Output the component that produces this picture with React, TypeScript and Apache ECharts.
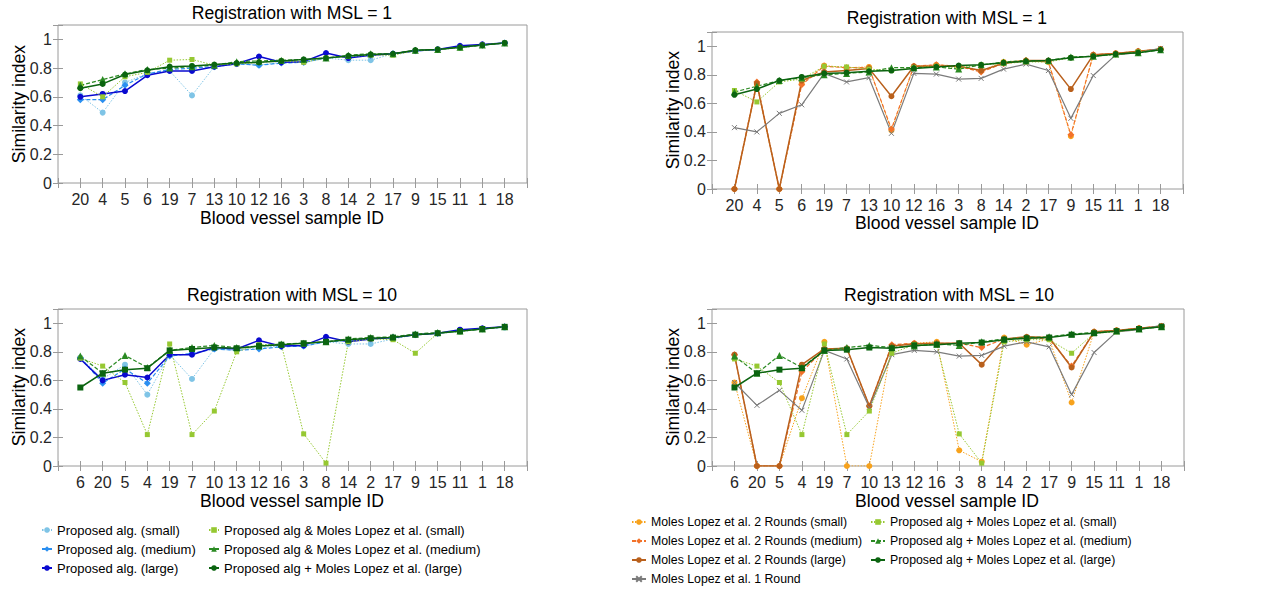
import React, { useEffect, useRef } from "react";
import * as echarts from "echarts";

const catsMsl1 = [20, 4, 5, 6, 19, 7, 13, 10, 12, 16, 3, 8, 14, 2, 17, 9, 15, 11, 1, 18];
const catsMsl10 = [6, 20, 5, 4, 19, 7, 10, 13, 12, 16, 3, 8, 14, 2, 17, 9, 15, 11, 1, 18];
const yTickLabels = ["0", "0.2", "0.4", "0.6", "0.8", "1"];

// Top-left (MSL = 1)
const tlPropSmall = [0.61, 0.49, 0.70, 0.76, 0.78, 0.61, 0.81, 0.83, 0.82, 0.84, 0.84, 0.87, 0.855, 0.855, 0.90, 0.92, 0.93, 0.94, 0.96, 0.975];
const tlPropMedium = [0.58, 0.58, 0.68, 0.76, 0.79, 0.80, 0.81, 0.83, 0.82, 0.835, 0.84, 0.87, 0.88, 0.89, 0.90, 0.92, 0.93, 0.945, 0.96, 0.975];
const tlPropLarge = [0.60, 0.62, 0.64, 0.75, 0.78, 0.78, 0.81, 0.83, 0.88, 0.84, 0.845, 0.905, 0.87, 0.89, 0.90, 0.92, 0.93, 0.955, 0.965, 0.975];
const tlComboSmall = [0.69, 0.60, 0.74, 0.77, 0.855, 0.86, 0.82, 0.83, 0.84, 0.85, 0.84, 0.87, 0.88, 0.89, 0.89, 0.92, 0.93, 0.94, 0.96, 0.975];
const tlComboMedium = [0.68, 0.72, 0.76, 0.79, 0.80, 0.81, 0.82, 0.845, 0.85, 0.855, 0.86, 0.87, 0.89, 0.90, 0.90, 0.925, 0.93, 0.945, 0.96, 0.975];
const tlComboLarge = [0.66, 0.69, 0.755, 0.785, 0.81, 0.815, 0.825, 0.835, 0.84, 0.85, 0.86, 0.87, 0.885, 0.895, 0.90, 0.925, 0.93, 0.945, 0.96, 0.975];

// Bottom-left (MSL = 10)
const blPropSmall = [0.76, 0.61, 0.71, 0.50, 0.78, 0.61, 0.82, 0.81, 0.83, 0.84, 0.84, 0.87, 0.855, 0.855, 0.89, 0.92, 0.93, 0.94, 0.96, 0.97];
const blPropMedium = [0.76, 0.58, 0.68, 0.58, 0.77, 0.79, 0.82, 0.81, 0.82, 0.835, 0.84, 0.87, 0.88, 0.89, 0.90, 0.92, 0.93, 0.945, 0.96, 0.975];
const blPropLarge = [0.75, 0.60, 0.64, 0.62, 0.78, 0.78, 0.83, 0.82, 0.88, 0.84, 0.845, 0.905, 0.87, 0.89, 0.90, 0.92, 0.93, 0.955, 0.965, 0.975];
const blComboSmall = [0.755, 0.70, 0.585, 0.22, 0.855, 0.22, 0.385, 0.80, 0.85, 0.85, 0.225, 0.02, 0.87, 0.89, 0.885, 0.79, 0.93, 0.94, 0.96, 0.975];
const blComboMedium = [0.77, 0.65, 0.775, 0.69, 0.81, 0.83, 0.845, 0.83, 0.84, 0.855, 0.86, 0.87, 0.89, 0.90, 0.905, 0.925, 0.935, 0.945, 0.96, 0.975];
const blComboLarge = [0.55, 0.65, 0.675, 0.685, 0.81, 0.82, 0.83, 0.825, 0.84, 0.85, 0.86, 0.87, 0.885, 0.895, 0.90, 0.92, 0.93, 0.945, 0.96, 0.975];

// Top-right (MSL = 1)
const trMl2Small = [0, 0.73, 0, 0.74, 0.865, 0.85, 0.855, 0.41, 0.86, 0.87, 0.86, 0.83, 0.89, 0.90, 0.89, 0.37, 0.94, 0.95, 0.965, 0.98];
const trMl2Medium = [0, 0.75, 0, 0.73, 0.86, 0.85, 0.85, 0.42, 0.86, 0.87, 0.86, 0.82, 0.88, 0.90, 0.89, 0.38, 0.94, 0.95, 0.965, 0.98];
const trMl2Large = [0, 0.74, 0, 0.76, 0.82, 0.83, 0.845, 0.65, 0.86, 0.86, 0.86, 0.83, 0.88, 0.90, 0.90, 0.70, 0.94, 0.95, 0.965, 0.98];
const trMl1 = [0.43, 0.40, 0.53, 0.59, 0.81, 0.75, 0.78, 0.39, 0.81, 0.805, 0.77, 0.775, 0.84, 0.875, 0.83, 0.495, 0.795, 0.94, 0.955, 0.985];
const trComboSmall = [0.69, 0.61, 0.75, 0.77, 0.86, 0.855, 0.84, 0.83, 0.85, 0.86, 0.85, 0.87, 0.88, 0.89, 0.89, 0.92, 0.93, 0.94, 0.96, 0.975];
const trComboMedium = [0.68, 0.72, 0.76, 0.78, 0.80, 0.81, 0.82, 0.85, 0.85, 0.855, 0.84, 0.87, 0.89, 0.90, 0.90, 0.925, 0.93, 0.945, 0.955, 0.975];
const trComboLarge = [0.66, 0.70, 0.76, 0.785, 0.81, 0.815, 0.825, 0.83, 0.845, 0.855, 0.865, 0.87, 0.885, 0.895, 0.90, 0.92, 0.93, 0.945, 0.955, 0.975];

// Bottom-right (MSL = 10)
const brMl2Small = [0.585, 0, 0, 0.475, 0.87, 0, 0, 0.84, 0.86, 0.87, 0.11, 0.03, 0.90, 0.85, 0.89, 0.445, 0.94, 0.95, 0.965, 0.98];
const brMl2Medium = [0.78, 0, 0, 0.66, 0.82, 0.82, 0.42, 0.85, 0.86, 0.86, 0.86, 0.83, 0.89, 0.90, 0.89, 0.70, 0.94, 0.95, 0.965, 0.98];
const brMl2Large = [0.78, 0, 0, 0.71, 0.82, 0.825, 0.42, 0.84, 0.855, 0.86, 0.86, 0.71, 0.89, 0.905, 0.90, 0.69, 0.94, 0.95, 0.965, 0.98];
const brMl1 = [0.585, 0.425, 0.53, 0.39, 0.81, 0.75, 0.41, 0.78, 0.81, 0.80, 0.77, 0.775, 0.84, 0.87, 0.835, 0.50, 0.795, 0.94, 0.955, 0.985];
const brComboSmall = [0.75, 0.70, 0.585, 0.22, 0.855, 0.22, 0.385, 0.79, 0.85, 0.85, 0.225, 0.02, 0.87, 0.885, 0.885, 0.79, 0.93, 0.94, 0.96, 0.975];
const brComboMedium = [0.77, 0.65, 0.775, 0.69, 0.81, 0.83, 0.845, 0.83, 0.84, 0.855, 0.845, 0.87, 0.89, 0.90, 0.905, 0.925, 0.935, 0.945, 0.96, 0.975];
const brComboLarge = [0.55, 0.65, 0.675, 0.685, 0.81, 0.815, 0.83, 0.825, 0.845, 0.85, 0.86, 0.865, 0.885, 0.895, 0.90, 0.92, 0.93, 0.945, 0.96, 0.975];

const N_PS = "Proposed alg. (small)";
const N_PM = "Proposed alg. (medium)";
const N_PL = "Proposed alg. (large)";
const N_AS = "Proposed alg & Moles Lopez et al. (small)";
const N_AM = "Proposed alg & Moles Lopez et al. (medium)";
const N_CS = "Proposed alg + Moles Lopez et al. (small)";
const N_CM = "Proposed alg + Moles Lopez et al. (medium)";
const N_CL = "Proposed alg + Moles Lopez et al. (large)";
const N_MS = "Moles Lopez et al. 2 Rounds (small)";
const N_MM = "Moles Lopez et al. 2 Rounds (medium)";
const N_ML = "Moles Lopez et al. 2 Rounds (large)";
const N_M1 = "Moles Lopez et al. 1 Round";

const FONT = "'Liberation Sans', Arial, Helvetica, sans-serif";
const BOX = "#9a9a9a";
const TICKTXT = "#262626";

const C_PS = "#7fc4e6";
const C_PM = "#2b8ff0";
const C_PL = "#0a0ad0";
const C_CS = "#96c832";
const C_CM = "#2a8a22";
const C_CL = "#0b6410";
const C_MS = "#f7a21c";
const C_MM = "#f2722a";
const C_ML = "#b9601c";
const C_M1 = "#7b7b7b";
const XSYM = "path://M0,0L10,10M10,0L0,10";

export default function App() {
  const ref = useRef<HTMLDivElement>(null);
  useEffect(() => {
    if (!ref.current) return;
    const chart = echarts.init(ref.current, null, { renderer: "svg" });

    const grids = [
      { left: 58, top: 25, width: 469, height: 158 },
      { left: 712, top: 32, width: 471, height: 157 },
      { left: 58, top: 309, width: 469, height: 157 },
      { left: 712, top: 309, width: 472, height: 157 },
    ];
    const gridCats = [catsMsl1, catsMsl1, catsMsl10, catsMsl10];

    const xAxes: any[] = [];
    const yAxes: any[] = [];
    gridCats.forEach((cats, g) => {
      xAxes.push({
        type: "value", gridIndex: g, min: 0, max: 21, interval: 1, position: "bottom",
        axisLine: { show: false }, splitLine: { show: false },
        axisTick: { inside: true, length: 5, lineStyle: { color: BOX } },
        axisLabel: {
          fontSize: 16, color: TICKTXT, fontFamily: FONT, margin: 8,
          formatter: (v: number) => (v >= 1 && v <= 20 ? String(cats[Math.round(v) - 1]) : ""),
        },
      });
      xAxes.push({
        type: "value", gridIndex: g, min: 0, max: 21, interval: 1, position: "top",
        axisLine: { show: false }, splitLine: { show: false },
        axisTick: { inside: true, length: 5, lineStyle: { color: BOX } },
        axisLabel: { show: false },
      });
      yAxes.push({
        type: "value", gridIndex: g, min: 0, max: 1.1, interval: 0.2, position: "left",
        axisLine: { show: false }, splitLine: { show: false },
        axisTick: { show: true, inside: true, length: 5, lineStyle: { color: BOX } },
        axisLabel: {
          fontSize: 16, color: TICKTXT, fontFamily: FONT, margin: 6,
          formatter: (v: number) => {
            const i = Math.round(v * 5);
            return v <= 1.05 && i >= 0 && i < yTickLabels.length ? yTickLabels[i] : "";
          },
        },
      });
      yAxes.push({
        type: "value", gridIndex: g, min: 0, max: 1.1, interval: 0.2, position: "right",
        axisLine: { show: false }, splitLine: { show: false },
        axisTick: { show: true, inside: true, length: 5, lineStyle: { color: BOX } },
        axisLabel: { show: false },
      });
    });

    const mk = (name: string, vals: number[], g: number, color: string, lt: string, symbol: string, size: number, width = 1.2) => ({
      name, type: "line", xAxisIndex: 2 * g, yAxisIndex: 2 * g,
      data: vals.map((v, i) => [i + 1, v]),
      symbol, symbolSize: size, showSymbol: true,
      lineStyle: { color, width, type: lt === "dashed" ? [4, 2] : lt === "dotted" ? [1.5, 1.5] : "solid" },
      itemStyle: symbol === XSYM ? { color, borderColor: color, borderWidth: 1 } : { color, borderWidth: 0 },
      emphasis: { disabled: true },
      z: 2,
    });

    const series = [
      mk(N_PS, tlPropSmall, 0, C_PS, "dotted", "circle", 6, 1),
      mk(N_PM, tlPropMedium, 0, C_PM, "dashed", "diamond", 7),
      mk(N_PL, tlPropLarge, 0, C_PL, "solid", "circle", 6, 1.5),
      mk(N_AS, tlComboSmall, 0, C_CS, "dotted", "rect", 5, 1),
      mk(N_AM, tlComboMedium, 0, C_CM, "dashed", "triangle", 7),
      mk(N_CL, tlComboLarge, 0, C_CL, "solid", "circle", 6, 1.5),

      mk(N_MS, trMl2Small, 1, C_MS, "dotted", "circle", 6, 1),
      mk(N_MM, trMl2Medium, 1, C_MM, "dashed", "diamond", 7),
      mk(N_ML, trMl2Large, 1, C_ML, "solid", "circle", 6, 1.5),
      mk(N_M1, trMl1, 1, C_M1, "solid", XSYM, 5, 1.2),
      mk(N_CS, trComboSmall, 1, C_CS, "dotted", "rect", 5, 1),
      mk(N_CM, trComboMedium, 1, C_CM, "dashed", "triangle", 7),
      mk(N_CL, trComboLarge, 1, C_CL, "solid", "circle", 6, 1.5),

      mk(N_PS, blPropSmall, 2, C_PS, "dotted", "circle", 6, 1),
      mk(N_PM, blPropMedium, 2, C_PM, "dashed", "diamond", 7),
      mk(N_PL, blPropLarge, 2, C_PL, "solid", "circle", 6, 1.5),
      mk(N_AS, blComboSmall, 2, C_CS, "dotted", "rect", 5, 1),
      mk(N_AM, blComboMedium, 2, C_CM, "dashed", "triangle", 7),
      mk(N_CL, blComboLarge, 2, C_CL, "solid", "rect", 6, 1.5),

      mk(N_MS, brMl2Small, 3, C_MS, "dotted", "circle", 6, 1),
      mk(N_MM, brMl2Medium, 3, C_MM, "dashed", "diamond", 7),
      mk(N_ML, brMl2Large, 3, C_ML, "solid", "circle", 6, 1.5),
      mk(N_M1, brMl1, 3, C_M1, "solid", XSYM, 5, 1.2),
      mk(N_CS, brComboSmall, 3, C_CS, "dotted", "rect", 5, 1),
      mk(N_CM, brComboMedium, 3, C_CM, "dashed", "triangle", 7),
      mk(N_CL, brComboLarge, 3, C_CL, "solid", "rect", 6, 1.5),
    ];

    const legendBase = (fs: number) => ({
      orient: "vertical", selectedMode: false, itemHeight: 7, itemGap: 5, padding: 0,
      textStyle: { fontSize: fs, color: "#000", fontFamily: FONT, lineHeight: 14 },
    });

    const txt = (text: string, x: number, y: number, rot = 0, size = 17.6) => ({
      type: "text", x, y, rotation: rot, silent: true,
      style: { text, fontSize: size, fontFamily: FONT, fill: "#000", textAlign: "center", textVerticalAlign: "middle" },
    });

    chart.setOption({
      animation: false,
      backgroundColor: "#fff",
      grid: grids.map((g) => ({ ...g, show: true, borderColor: BOX, borderWidth: 1, backgroundColor: "transparent" })),
      xAxis: xAxes,
      yAxis: yAxes,
      series,
      legend: [
        { ...legendBase(13), left: 41, top: 523, itemWidth: 10, data: [N_PS, N_PM, N_PL] },
        { ...legendBase(13), left: 208, top: 523, itemWidth: 10, data: [N_AS, N_AM, N_CL] },
        { ...legendBase(12.3), left: 631, top: 515, itemWidth: 14, data: [N_MS, N_MM, N_ML] },
        { ...legendBase(12.3), left: 631, top: 572, itemWidth: 14, data: [N_M1] },
        { ...legendBase(12.3), left: 870, top: 515, itemWidth: 14, data: [N_CS, N_CM, N_CL] },
      ],
      graphic: [
        txt("Registration with MSL = 1", 292, 13),
        txt("Registration with MSL = 1", 947, 18),
        txt("Registration with MSL = 10", 292, 295),
        txt("Registration with MSL = 10", 949, 295),
        txt("Blood vessel sample ID", 292, 218),
        txt("Blood vessel sample ID", 947, 223),
        txt("Blood vessel sample ID", 292, 501),
        txt("Blood vessel sample ID", 947, 501),
        txt("Similarity index", 19, 104, Math.PI / 2),
        txt("Similarity index", 673, 110, Math.PI / 2),
        txt("Similarity index", 19, 387, Math.PI / 2),
        txt("Similarity index", 673, 387, Math.PI / 2),
      ],
    });
    return () => chart.dispose();
  }, []);
  return <div ref={ref} style={{ position: "fixed", left: 0, top: 0, width: 1265, height: 594, background: "#fff" }} />;
}
